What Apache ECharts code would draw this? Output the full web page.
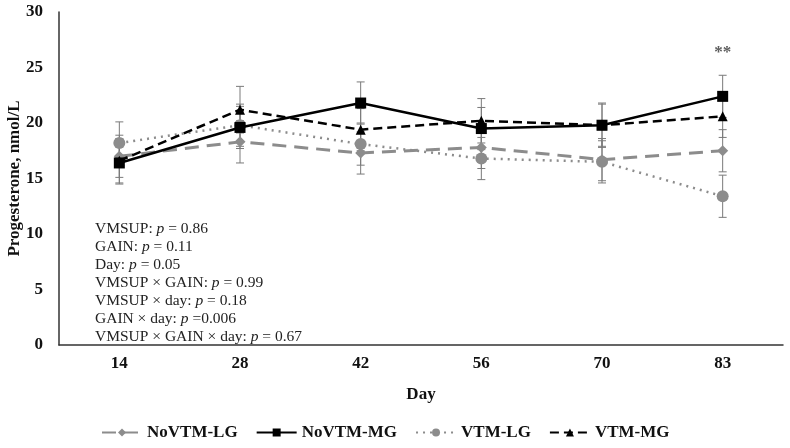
<!DOCTYPE html>
<html><head><meta charset="utf-8">
<script src="https://cdn.jsdelivr.net/npm/echarts@6/dist/echarts.min.js"></script>
<style>html,body{margin:0;padding:0;background:#fff}#c{width:790px;height:448px}</style>
</head><body><div id="c"></div>
<script>
const days = ['14','28','42','56','70','83'];
const noVtmLG = [17.0, 18.3, 17.3, 17.8, 16.7, 17.5];
const noVtmLGse = [1.9, 1.9, 1.9, 1.9, 1.9, 1.9];
const noVtmMG = [16.4, 19.6, 21.8, 19.5, 19.8, 22.4];
const noVtmMGse = [1.9, 1.9, 1.9, 1.9, 2.0, 1.9];
const vtmLG = [18.2, 19.8, 18.1, 16.8, 16.5, 13.4];
const vtmLGse = [1.9, 1.9, 1.9, 1.9, 1.9, 1.9];
const vtmMG = [16.6, 21.2, 19.4, 20.2, 19.8, 20.6];
const vtmMGse = [2.0, 2.1, 1.9, 2.0, 1.9, 1.9];
const yTicks = [0, 5, 10, 15, 20, 25, 30];
const statLines = [
  ['VMSUP: ', ' = 0.86'],
  ['GAIN: ', ' = 0.11'],
  ['Day: ', ' = 0.05'],
  ['VMSUP × GAIN: ', ' = 0.99'],
  ['VMSUP × day: ', ' = 0.18'],
  ['GAIN × day: ', ' =0.006'],
  ['VMSUP × GAIN × day: ', ' = 0.67']
];
const sigLabel = '**';
const sigPoint = [5, 26.3];

const serif = '"Liberation Serif","DejaVu Serif",serif';
const gray = '#8c8c8c';
const errGray = '#7a7a7a';

function errData(vals, se) {
  return vals.map((v, i) => [i, v - se[i], v + se[i]]);
}
function errSeries(vals, se) {
  return {
    type: 'custom', z: 1, silent: true,
    data: errData(vals, se),
    renderItem: function (params, api) {
      const x = api.value(0);
      const lo = api.coord([x, api.value(1)]);
      const hi = api.coord([x, api.value(2)]);
      const w = 4;
      const st = { stroke: errGray, lineWidth: 1 };
      return { type: 'group', children: [
        { type: 'line', shape: { x1: lo[0], y1: lo[1], x2: hi[0], y2: hi[1] }, style: st },
        { type: 'line', shape: { x1: lo[0]-w, y1: lo[1], x2: lo[0]+w, y2: lo[1] }, style: st },
        { type: 'line', shape: { x1: hi[0]-w, y1: hi[1], x2: hi[0]+w, y2: hi[1] }, style: st }
      ]};
    }
  };
}

const rich = {
  n: { fontFamily: serif, fontSize: 15.5, color: '#222', lineHeight: 18 },
  i: { fontFamily: serif, fontSize: 15.5, color: '#222', fontStyle: 'italic', lineHeight: 18 }
};
const statText = statLines.map(l => '{n|' + l[0] + '}{i|p}{n|' + l[1] + '}').join('\n');

const chart = echarts.init(document.getElementById('c'));
chart.setOption({
  animation: false,
  backgroundColor: '#fff',
  grid: { left: 59, right: 7, top: 12, bottom: 103, outerBoundsMode: 'none', containLabel: false },
  xAxis: {
    type: 'category', data: days, boundaryGap: true,
    name: 'Day', nameLocation: 'middle', nameGap: 41,
    nameTextStyle: { fontFamily: serif, fontWeight: 'bold', fontSize: 17, color: '#111' },
    axisLine: { lineStyle: { color: '#333', width: 1.5 } },
    axisTick: { show: false },
    axisLabel: { fontFamily: serif, fontWeight: 'bold', fontSize: 17, color: '#111', margin: 10 }
  },
  yAxis: {
    type: 'value', min: yTicks[0], max: yTicks[yTicks.length-1], interval: 5,
    name: 'Progesterone, nmol/L', nameLocation: 'middle', nameGap: 36, nameMoveOverlap: false,
    nameTextStyle: { fontFamily: serif, fontWeight: 'bold', fontSize: 17, color: '#111' },
    axisLine: { show: true, lineStyle: { color: '#333', width: 1.5 } },
    axisTick: { show: false },
    splitLine: { show: false },
    axisLabel: { fontFamily: serif, fontWeight: 'bold', fontSize: 17, color: '#111', margin: 16 }
  },
  legend: {
    bottom: 2, left: 96, itemWidth: 40, itemHeight: 10, itemGap: 18,
    textStyle: { fontFamily: serif, fontWeight: 'bold', fontSize: 17, color: '#111' },
    data: ['NoVTM-LG', 'NoVTM-MG', 'VTM-LG', 'VTM-MG']
  },
  graphic: [
    { type: 'text', left: 95, top: 221, z: 10,
      style: { text: statText, rich: rich, fontFamily: serif, fontSize: 15.5, fill: '#222' } }
  ],
  series: [
    errSeries(noVtmLG, noVtmLGse),
    errSeries(noVtmMG, noVtmMGse),
    errSeries(vtmLG, vtmLGse),
    errSeries(vtmMG, vtmMGse),
    { name: 'NoVTM-LG', type: 'line', data: noVtmLG, z: 3,
      symbol: 'diamond', symbolSize: 11,
      itemStyle: { color: gray }, lineStyle: { color: gray, width: 3, type: [14, 8] } },
    { name: 'NoVTM-MG', type: 'line', data: noVtmMG, z: 5,
      symbol: 'rect', symbolSize: 11,
      itemStyle: { color: '#000' }, lineStyle: { color: '#000', width: 2.5, type: 'solid' } },
    { name: 'VTM-LG', type: 'line', data: vtmLG, z: 4,
      symbol: 'circle', symbolSize: 12,
      itemStyle: { color: gray }, lineStyle: { color: gray, width: 2.5, type: [2, 5] } },
    { name: 'VTM-MG', type: 'line', data: vtmMG, z: 5,
      symbol: 'triangle', symbolSize: 10,
      itemStyle: { color: '#000' }, lineStyle: { color: '#000', width: 2.5, type: [9, 5] } },
    { name: 'sig', type: 'scatter', data: [sigPoint], symbolSize: 1, z: 6, silent: true,
      itemStyle: { color: 'rgba(0,0,0,0)' },
      label: { show: true, position: 'inside', formatter: sigLabel,
               fontFamily: serif, fontWeight: 'bold', fontSize: 17, color: '#333' } }
  ]
});
</script>
</body></html>
